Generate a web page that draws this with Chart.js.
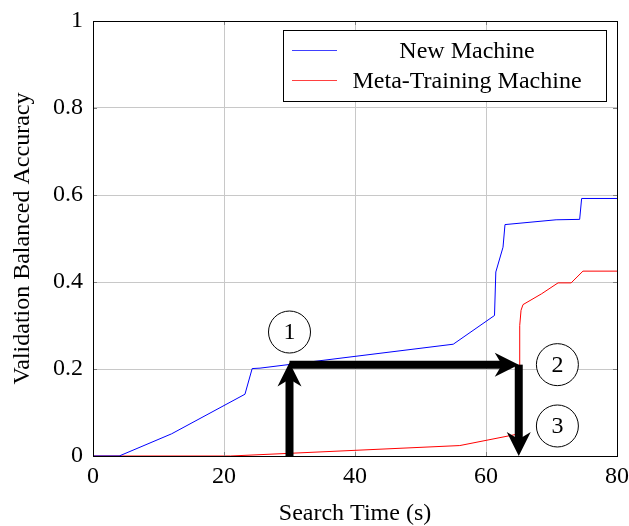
<!DOCTYPE html>
<html>
<head>
<meta charset="utf-8">
<script src="https://cdn.jsdelivr.net/npm/chart.js@4"></script>
<style>
  html, body { margin: 0; padding: 0; background: #fff; }
  #wrap { width: 629px; height: 526px; }
</style>
</head>
<body>
<div id="wrap"><canvas id="myChart" width="629" height="526"></canvas></div>
<script>
// data
const timeNew = [0, 4, 12, 23.2, 24.3, 25.5, 55, 61.3, 61.5, 62.6, 62.9, 70.7, 74.3, 74.6, 80];
const accNew = [0, 0, 0.051, 0.142, 0.201, 0.202, 0.257, 0.323, 0.423, 0.48, 0.532, 0.543, 0.544, 0.592, 0.592];

const timeMeta = [0, 21, 56, 64.4, 64.9, 65.05, 65.15, 65.35, 65.65, 68.5, 71.0, 73.0, 74.8, 80];
const accMeta = [0, 0, 0.024, 0.049, 0.06, 0.2, 0.3, 0.335, 0.348, 0.373, 0.398, 0.398, 0.425, 0.425];

const seriesNames = ['New Machine', 'Meta-Training Machine'];
const seriesColors = ['#0000ff', '#ff0000'];

const xTicks = [0, 20, 40, 60, 80];
const xTickLabels = ['0', '20', '40', '60', '80'];
const yTicks = [0, 0.2, 0.4, 0.6, 0.8, 1];
const yTickLabels = ['0', '0.2', '0.4', '0.6', '0.8', '1'];

// annotation arrows and circled step numbers (data coordinates)
const arrows = [
	{ from: [30, 0], to: [30, 0.215] },
	{ from: [30, 0.21], to: [65, 0.21] },
	{ from: [65, 0.21], to: [65, 0] }
];
const steps = [
	{ label: '1', x: 30, y: 0.285 },
	{ label: '2', x: 70.9, y: 0.21 },
	{ label: '3', x: 70.9, y: 0.069 }
];

const serif = "'Liberation Serif', 'Times New Roman', serif";
const fontSize = 24;

function toPoints(xs, ys) {
	return xs.map((x, i) => ({ x: x, y: ys[i] }));
}

// frame, inner tick marks, arrows, circles, legend
const extras = {
	id: 'extras',
	afterDatasetsDraw(chart) {
		const ctx = chart.ctx;
		const a = chart.chartArea;
		const sx = chart.scales.x, sy = chart.scales.y;

		ctx.save();
		// inner tick marks
		ctx.strokeStyle = '#808080';
		ctx.lineWidth = 1;
		ctx.beginPath();
		xTicks.forEach(v => {
			const px = Math.round(sx.getPixelForValue(v)) + 0.5;
			ctx.moveTo(px, a.bottom); ctx.lineTo(px, a.bottom - 4);
			ctx.moveTo(px, a.top); ctx.lineTo(px, a.top + 4);
		});
		yTicks.forEach(v => {
			const py = Math.round(sy.getPixelForValue(v)) + 0.5;
			ctx.moveTo(a.left, py); ctx.lineTo(a.left + 4, py);
			ctx.moveTo(a.right, py); ctx.lineTo(a.right - 4, py);
		});
		ctx.stroke();

		// frame
		ctx.strokeStyle = '#000';
		ctx.strokeRect(Math.round(a.left) + 0.5, Math.round(a.top) + 0.5,
			Math.round(a.right - a.left), Math.round(a.bottom - a.top));

		// arrows
		const L = 24, W = 12;
		arrows.forEach(ar => {
			const x0 = sx.getPixelForValue(ar.from[0]), y0 = sy.getPixelForValue(ar.from[1]);
			const x1 = sx.getPixelForValue(ar.to[0]), y1 = sy.getPixelForValue(ar.to[1]);
			const len = Math.hypot(x1 - x0, y1 - y0);
			const dx = (x1 - x0) / len, dy = (y1 - y0) / len;
			const nx = -dy, ny = dx;
			ctx.strokeStyle = '#000';
			ctx.lineWidth = 8;
			ctx.lineCap = 'butt';
			ctx.beginPath();
			ctx.moveTo(x0, y0);
			ctx.lineTo(x1 - dx * L * 0.6, y1 - dy * L * 0.6);
			ctx.stroke();
			ctx.fillStyle = '#000';
			ctx.beginPath();
			ctx.moveTo(x1, y1);
			ctx.lineTo(x1 - dx * L + nx * W, y1 - dy * L + ny * W);
			ctx.lineTo(x1 - dx * L * 0.7, y1 - dy * L * 0.7);
			ctx.lineTo(x1 - dx * L - nx * W, y1 - dy * L - ny * W);
			ctx.closePath();
			ctx.fill();
		});

		// circled numbers
		ctx.lineWidth = 1;
		ctx.font = fontSize + 'px ' + serif;
		ctx.textAlign = 'center';
		ctx.textBaseline = 'middle';
		steps.forEach(s => {
			const px = sx.getPixelForValue(s.x), py = sy.getPixelForValue(s.y);
			ctx.fillStyle = '#fff';
			ctx.beginPath();
			ctx.arc(px, py, 21, 0, Math.PI * 2);
			ctx.fill();
			ctx.strokeStyle = '#000';
			ctx.stroke();
			ctx.fillStyle = '#000';
			ctx.fillText(s.label, px, py + 1);
		});

		// legend box
		const lx = a.right - 334, ly = a.top + 9, lw = 323, lh = 71;
		ctx.fillStyle = '#fff';
		ctx.fillRect(lx, ly, lw, lh);
		ctx.strokeStyle = '#000';
		ctx.lineWidth = 1;
		ctx.strokeRect(Math.round(lx) + 0.5, Math.round(ly) + 0.5, lw, lh);
		seriesNames.forEach((name, i) => {
			const rowY = ly + 20.5 + i * 30;
			ctx.strokeStyle = seriesColors[i];
			ctx.globalAlpha = 0.75;
			ctx.beginPath();
			ctx.moveTo(lx + 9, rowY);
			ctx.lineTo(lx + 54, rowY);
			ctx.stroke();
			ctx.globalAlpha = 1;
			ctx.fillStyle = '#000';
			ctx.fillText(name, lx + 184, rowY + 1);
		});
		ctx.restore();
	}
};

window.addEventListener("load", function() {
	const ctx = document.getElementById('myChart').getContext('2d');

	let data = {
		datasets: [
			{
				label: seriesNames[0],
				data: toPoints(timeNew, accNew),
				borderColor: seriesColors[0],
				borderWidth: 1,
				pointRadius: 0,
				tension: 0,
				fill: false
			},
			{
				label: seriesNames[1],
				data: toPoints(timeMeta, accMeta),
				borderColor: seriesColors[1],
				borderWidth: 1,
				pointRadius: 0,
				tension: 0,
				fill: false
			}
		]
	};

	let options = {
		responsive: false,
		animation: false,
		layout: { padding: { left: 0, right: 12, top: 21, bottom: 0 } },
		plugins: {
			legend: { display: false },
			tooltip: { enabled: false }
		},
		scales: {
			x: {
				type: 'linear',
				min: 0,
				max: 80,
				afterBuildTicks: s => { s.ticks = xTicks.map(v => ({ value: v })); },
				afterFit: s => { s.height = 70; s.paddingLeft = 0; s.paddingRight = 0; },
				grid: { color: '#c8c8c8', drawTicks: false },
				border: { display: false },
				ticks: {
					color: '#000',
					padding: 6,
					maxRotation: 0,
					callback: (v, i) => xTickLabels[i],
					font: { family: serif, size: fontSize }
				},
				title: {
					display: true,
					text: 'Search Time (s)',
					color: '#000',
					padding: 0,
					font: { family: serif, size: fontSize, lineHeight: 1 }
				}
			},
			y: {
				type: 'linear',
				min: 0,
				max: 1,
				afterBuildTicks: s => { s.ticks = yTicks.map(v => ({ value: v })); },
				afterFit: s => { s.width = 93; s.paddingTop = 0; s.paddingBottom = 0; },
				grid: { color: '#c8c8c8', drawTicks: false },
				border: { display: false },
				ticks: {
					color: '#000',
					padding: 10,
					callback: (v, i) => yTickLabels[i],
					font: { family: serif, size: fontSize }
				},
				title: {
					display: true,
					text: 'Validation Balanced Accuracy',
					color: '#000',
					padding: { top: 11, bottom: 0 },
					font: { family: serif, size: fontSize, lineHeight: 1 }
				}
			}
		}
	};

	new Chart(ctx, {
		type: 'line',
		data: data,
		options: options,
		plugins: [extras]
	});
});
</script>
</body>
</html>
